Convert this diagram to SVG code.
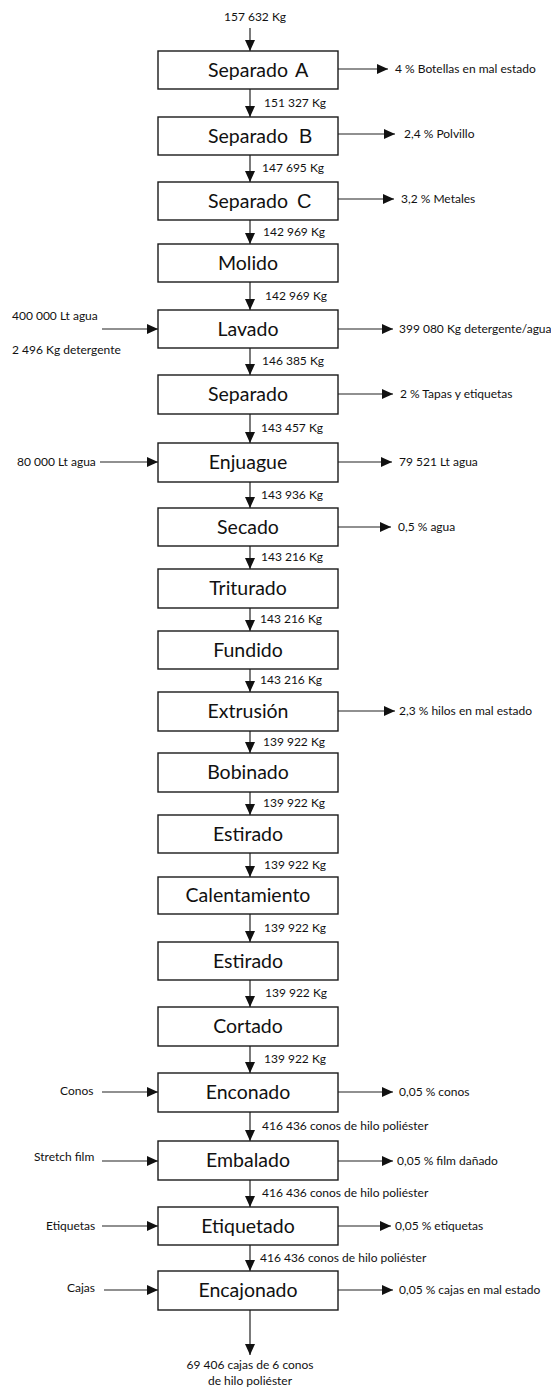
<svg xmlns="http://www.w3.org/2000/svg" width="551" height="1387" viewBox="0 0 551 1387">
<style>
.box{fill:#fff;stroke:#1a1a1a;stroke-width:1.4}
.bt{font-family:Lato,"Open Sans",sans-serif;font-size:19.5px;fill:#111;text-anchor:middle}
.lt{font-family:Lato,"Open Sans",sans-serif;font-size:12px;fill:#111}
.ln{stroke:#222;stroke-width:1.2;fill:none;marker-end:url(#ah)}
.sv{font-family:"Liberation Sans",Arial,sans-serif;font-size:20px;fill:#111}
</style>
<defs>
<marker id="ah" markerUnits="userSpaceOnUse" markerWidth="11" markerHeight="10" refX="11" refY="5" orient="auto">
<path d="M0,0 L11,5 L0,10 z" fill="#111"/>
</marker>
</defs>
<rect width="551" height="1387" fill="#fff"/>
<g id="connectors">
<line class="ln" x1="250" y1="28" x2="250" y2="51"/>
<line class="ln" x1="250" y1="89" x2="250" y2="117"/>
<line class="ln" x1="250" y1="155" x2="250" y2="182"/>
<line class="ln" x1="250" y1="220" x2="250" y2="244"/>
<line class="ln" x1="250" y1="282" x2="250" y2="310"/>
<line class="ln" x1="250" y1="348" x2="250" y2="375"/>
<line class="ln" x1="250" y1="414" x2="250" y2="443"/>
<line class="ln" x1="250" y1="482" x2="250" y2="508"/>
<line class="ln" x1="250" y1="546" x2="250" y2="569"/>
<line class="ln" x1="250" y1="608" x2="250" y2="631"/>
<line class="ln" x1="250" y1="669" x2="250" y2="692"/>
<line class="ln" x1="250" y1="731" x2="250" y2="753"/>
<line class="ln" x1="250" y1="792" x2="250" y2="815"/>
<line class="ln" x1="250" y1="853" x2="250" y2="877"/>
<line class="ln" x1="250" y1="914" x2="250" y2="942"/>
<line class="ln" x1="250" y1="980" x2="250" y2="1007"/>
<line class="ln" x1="250" y1="1046" x2="250" y2="1073"/>
<line class="ln" x1="250" y1="1112" x2="250" y2="1141"/>
<line class="ln" x1="250" y1="1180" x2="250" y2="1207"/>
<line class="ln" x1="250" y1="1245" x2="250" y2="1271"/>
<line class="ln" x1="250" y1="1310" x2="250" y2="1355"/>
<line class="ln" x1="338" y1="69" x2="388" y2="69"/>
<line class="ln" x1="338" y1="134" x2="395" y2="134"/>
<line class="ln" x1="338" y1="199" x2="394" y2="199"/>
<line class="ln" x1="338" y1="329" x2="393" y2="329"/>
<line class="ln" x1="338" y1="394" x2="393" y2="394"/>
<line class="ln" x1="338" y1="462" x2="392" y2="462"/>
<line class="ln" x1="338" y1="527" x2="391" y2="527"/>
<line class="ln" x1="338" y1="711" x2="395" y2="711"/>
<line class="ln" x1="338" y1="1092" x2="393" y2="1092"/>
<line class="ln" x1="338" y1="1161" x2="393" y2="1161"/>
<line class="ln" x1="338" y1="1226" x2="391" y2="1226"/>
<line class="ln" x1="338" y1="1290" x2="393" y2="1290"/>
<line class="ln" x1="102" y1="329" x2="158" y2="329"/>
<line class="ln" x1="100" y1="462" x2="158" y2="462"/>
<line class="ln" x1="102" y1="1092" x2="158" y2="1092"/>
<line class="ln" x1="102" y1="1161" x2="158" y2="1161"/>
<line class="ln" x1="102" y1="1226" x2="158" y2="1226"/>
<line class="ln" x1="104" y1="1290" x2="158" y2="1290"/>
</g>
<g id="flow-labels" class="lt">
<text x="224" y="21">157 632 Kg</text>
<text x="264" y="107">151 327 Kg</text>
<text x="262" y="172">147 695 Kg</text>
<text x="263" y="236">142 969 Kg</text>
<text x="265" y="300">142 969 Kg</text>
<text x="262" y="365">146 385 Kg</text>
<text x="261" y="432">143 457 Kg</text>
<text x="261" y="499">143 936 Kg</text>
<text x="261" y="561">143 216 Kg</text>
<text x="260" y="623">143 216 Kg</text>
<text x="260" y="684">143 216 Kg</text>
<text x="263" y="746">139 922 Kg</text>
<text x="263" y="807">139 922 Kg</text>
<text x="264" y="869">139 922 Kg</text>
<text x="264" y="932">139 922 Kg</text>
<text x="265" y="997">139 922 Kg</text>
<text x="264" y="1063">139 922 Kg</text>
<text x="262" y="1130">416 436 conos de hilo poliéster</text>
<text x="262" y="1197">416 436 conos de hilo poliéster</text>
<text x="260" y="1262">416 436 conos de hilo poliéster</text>
<text x="250" y="1369" text-anchor="middle">69 406 cajas de 6 conos</text>
<text x="250" y="1385" text-anchor="middle">de hilo poliéster</text>
</g>
<g id="outputs" class="lt">
<text x="395" y="73">4 % Botellas en mal estado</text>
<text x="404" y="138">2,4 % Polvillo</text>
<text x="401" y="203">3,2 % Metales</text>
<text x="399" y="333">399 080 Kg detergente/agua</text>
<text x="400" y="398">2 % Tapas y etiquetas</text>
<text x="399" y="466">79 521 Lt agua</text>
<text x="398" y="531">0,5 % agua</text>
<text x="399" y="715">2,3 % hilos en mal estado</text>
<text x="399" y="1096">0,05 % conos</text>
<text x="397" y="1165">0,05 % film dañado</text>
<text x="395" y="1230">0,05 % etiquetas</text>
<text x="399" y="1294">0,05 % cajas en mal estado</text>
</g>
<g id="inputs" class="lt">
<text x="12" y="320">400 000 Lt agua</text>
<text x="12" y="354">2 496 Kg detergente</text>
<text x="17" y="466">80 000 Lt agua</text>
<text x="60" y="1095">Conos</text>
<text x="34" y="1161">Stretch film</text>
<text x="46" y="1230">Etiquetas</text>
<text x="67" y="1292">Cajas</text>
</g>
<g id="n-separado-a"><rect class="box" x="158" y="51" width="180" height="38"/><text class="bt" x="248" y="77">Separado</text><text class="sv" x="295" y="77">A</text></g>
<g id="n-separado-b"><rect class="box" x="158" y="117" width="180" height="38"/><text class="bt" x="248" y="143">Separado</text><text class="sv" x="299" y="143">B</text></g>
<g id="n-separado-c"><rect class="box" x="158" y="182" width="180" height="38"/><text class="bt" x="248" y="208">Separado</text><text class="sv" x="297" y="208">C</text></g>
<g id="n-molido"><rect class="box" x="158" y="244" width="180" height="38"/><text class="bt" x="248" y="270">Molido</text></g>
<g id="n-lavado"><rect class="box" x="158" y="310" width="180" height="38"/><text class="bt" x="248" y="336">Lavado</text></g>
<g id="n-separado"><rect class="box" x="158" y="375" width="180" height="39"/><text class="bt" x="248" y="401">Separado</text></g>
<g id="n-enjuague"><rect class="box" x="158" y="443" width="180" height="39"/><text class="bt" x="248" y="469">Enjuague</text></g>
<g id="n-secado"><rect class="box" x="158" y="508" width="180" height="38"/><text class="bt" x="248" y="534">Secado</text></g>
<g id="n-triturado"><rect class="box" x="158" y="569" width="180" height="39"/><text class="bt" x="248" y="595">Triturado</text></g>
<g id="n-fundido"><rect class="box" x="158" y="631" width="180" height="38"/><text class="bt" x="248" y="657">Fundido</text></g>
<g id="n-extrusion"><rect class="box" x="158" y="692" width="180" height="39"/><text class="bt" x="248" y="718">Extrusión</text></g>
<g id="n-bobinado"><rect class="box" x="158" y="753" width="180" height="39"/><text class="bt" x="248" y="779">Bobinado</text></g>
<g id="n-estirado-1"><rect class="box" x="158" y="815" width="180" height="38"/><text class="bt" x="248" y="841">Estirado</text></g>
<g id="n-calentamiento"><rect class="box" x="158" y="877" width="180" height="37"/><text class="bt" x="248" y="902">Calentamiento</text></g>
<g id="n-estirado-2"><rect class="box" x="158" y="942" width="180" height="38"/><text class="bt" x="248" y="968">Estirado</text></g>
<g id="n-cortado"><rect class="box" x="158" y="1007" width="180" height="39"/><text class="bt" x="248" y="1033">Cortado</text></g>
<g id="n-enconado"><rect class="box" x="158" y="1073" width="180" height="39"/><text class="bt" x="248" y="1099">Enconado</text></g>
<g id="n-embalado"><rect class="box" x="158" y="1141" width="180" height="39"/><text class="bt" x="248" y="1167">Embalado</text></g>
<g id="n-etiquetado"><rect class="box" x="158" y="1207" width="180" height="38"/><text class="bt" x="248" y="1233">Etiquetado</text></g>
<g id="n-encajonado"><rect class="box" x="158" y="1271" width="180" height="39"/><text class="bt" x="248" y="1297">Encajonado</text></g>
</svg>
